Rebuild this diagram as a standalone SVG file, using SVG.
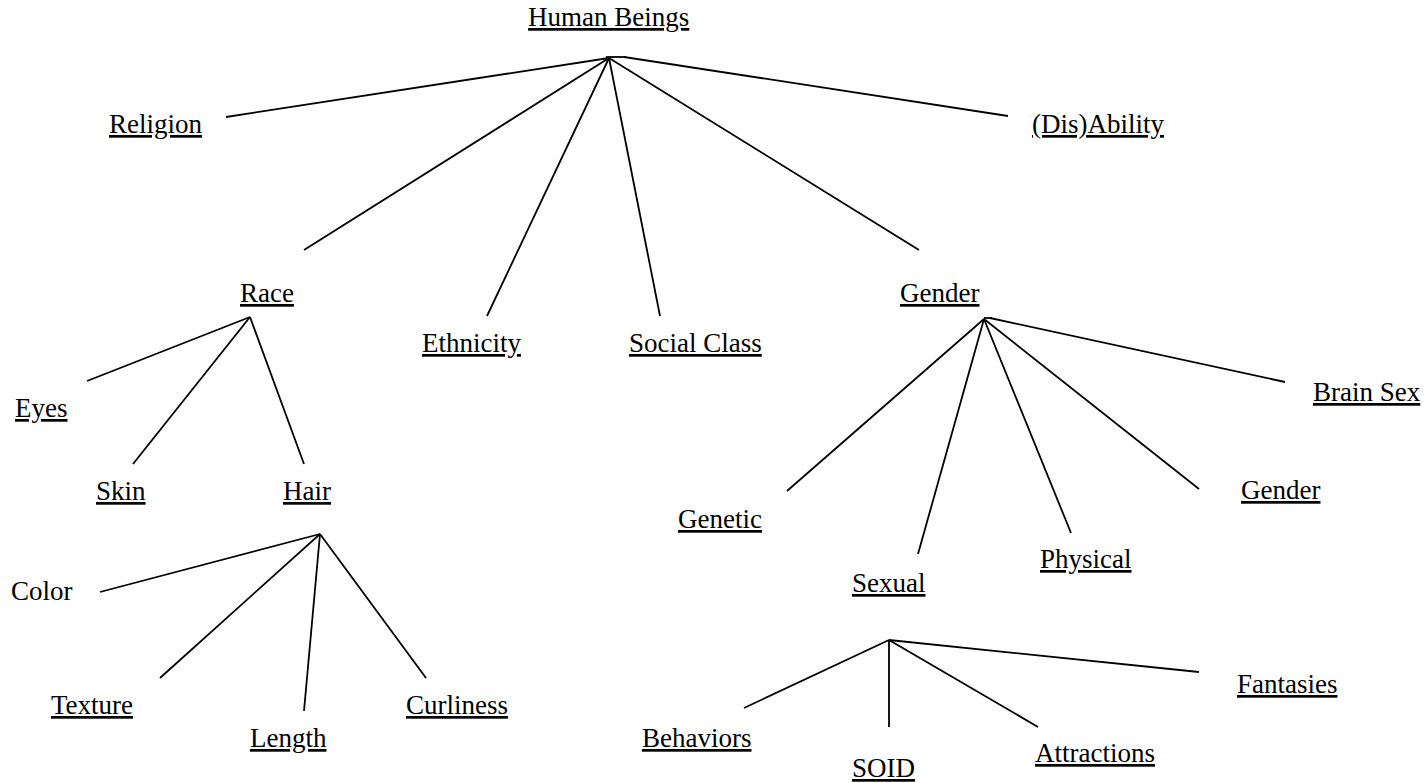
<svg xmlns="http://www.w3.org/2000/svg" width="1428" height="783" viewBox="0 0 1428 783">
<style>
text{font-family:"Liberation Serif","Times New Roman",serif;font-size:27px;fill:#000}
.u{text-decoration:underline}
#connectors line{stroke:#000;stroke-width:1.8;stroke-linecap:butt}
</style>
<rect width="1428" height="783" fill="#fff"/>
<g id="connectors">
<line x1="609" y1="58" x2="226" y2="117"/>
<line x1="609" y1="58" x2="304" y2="250"/>
<line x1="609" y1="58" x2="487" y2="316"/>
<line x1="609" y1="58" x2="660" y2="316"/>
<line x1="609" y1="58" x2="919" y2="250"/>
<line x1="606" y1="57" x2="626" y2="57"/>
<line x1="624" y1="57" x2="1008" y2="116"/>
<line x1="250" y1="317" x2="87" y2="381"/>
<line x1="250" y1="317" x2="133" y2="464"/>
<line x1="250" y1="317" x2="304" y2="464"/>
<line x1="320" y1="534" x2="100" y2="592"/>
<line x1="320" y1="534" x2="160" y2="678"/>
<line x1="320" y1="534" x2="304" y2="711"/>
<line x1="320" y1="534" x2="426" y2="678"/>
<line x1="984" y1="319" x2="787" y2="491"/>
<line x1="984" y1="319" x2="918" y2="554"/>
<line x1="984" y1="319" x2="1071" y2="533"/>
<line x1="984" y1="319" x2="1199" y2="489"/>
<line x1="984" y1="318" x2="992" y2="318"/>
<line x1="990" y1="318" x2="1285" y2="382"/>
<line x1="889" y1="640" x2="744" y2="708"/>
<line x1="889" y1="640" x2="889" y2="727"/>
<line x1="889" y1="640" x2="1038" y2="727"/>
<line x1="889" y1="640" x2="1199" y2="672"/>
</g>
<g id="human-beings"><text class="u" x="528" y="26">Human Beings</text></g>
<g id="religion"><text class="u" x="109" y="133">Religion</text></g>
<g id="disability"><text class="u" x="1032" y="133">(Dis)Ability</text></g>
<g id="race"><text class="u" x="240" y="302">Race</text></g>
<g id="gender"><text class="u" x="900" y="302">Gender</text></g>
<g id="ethnicity"><text class="u" x="422" y="352">Ethnicity</text></g>
<g id="social-class"><text class="u" x="629" y="352">Social Class</text></g>
<g id="brain-sex"><text class="u" x="1313" y="401">Brain Sex</text></g>
<g id="eyes"><text class="u" x="15" y="417">Eyes</text></g>
<g id="skin"><text class="u" x="96" y="500">Skin</text></g>
<g id="hair"><text class="u" x="283" y="500">Hair</text></g>
<g id="gender-identity"><text class="u" x="1241" y="499">Gender</text></g>
<g id="genetic"><text class="u" x="678" y="528">Genetic</text></g>
<g id="physical"><text class="u" x="1040" y="568">Physical</text></g>
<g id="sexual"><text class="u" x="852" y="592">Sexual</text></g>
<g id="color"><text x="11" y="600">Color</text></g>
<g id="fantasies"><text class="u" x="1237" y="693">Fantasies</text></g>
<g id="texture"><text class="u" x="51" y="714">Texture</text></g>
<g id="curliness"><text class="u" x="406" y="714">Curliness</text></g>
<g id="length"><text class="u" x="250" y="747">Length</text></g>
<g id="behaviors"><text class="u" x="642" y="747">Behaviors</text></g>
<g id="attractions"><text class="u" x="1035" y="762">Attractions</text></g>
<g id="soid"><text class="u" x="852" y="777">SOID</text></g>
</svg>
